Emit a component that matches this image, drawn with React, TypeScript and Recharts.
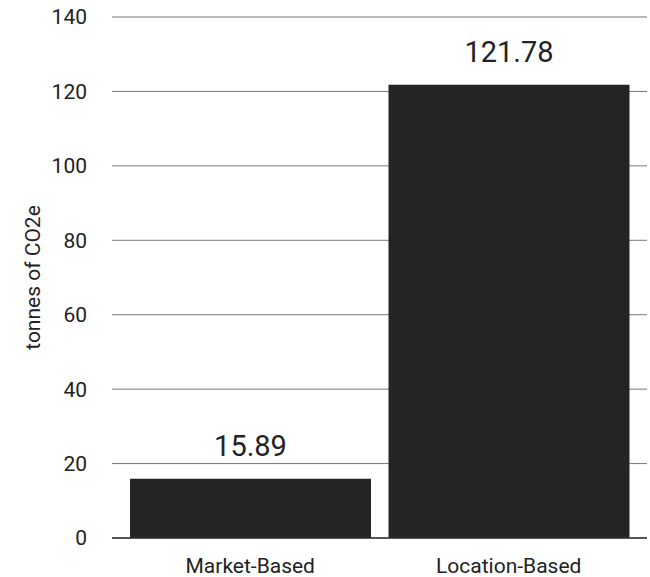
import React from "react";
import { BarChart, Bar, XAxis, YAxis, CartesianGrid, LabelList } from "recharts";

// emission totals by accounting method
const methods = ["Market-Based", "Location-Based"];
const tonnes = [15.89, 121.78];
const yTicks = [0, 20, 40, 60, 80, 100, 120, 140];

const data = methods.map((name, i) => ({ name, value: tonnes[i] }));

const FONT = "Roboto, 'Noto Sans', sans-serif";

export default function App() {
  return (
    <div style={{ position: "absolute", left: 0, top: 0, background: "#fff", fontFamily: FONT }}>
      <BarChart
        width={650}
        height={577}
        data={data}
        margin={{ top: 17, right: 3, bottom: 9, left: 0 }}
        barCategoryGap={9}
      >
        <CartesianGrid vertical={false} stroke="#777" strokeWidth={1} />
        <XAxis
          dataKey="name"
          height={30}
          padding={{ left: 9, right: 9 }}
          axisLine={{ stroke: "#333", strokeWidth: 1.5 }}
          tickLine={false}
          tickMargin={14}
          tick={{ fontSize: 21, fill: "#222", fontFamily: FONT }}
        />
        <YAxis
          width={112}
          domain={[0, 140]}
          ticks={yTicks}
          axisLine={false}
          tickLine={false}
          tickMargin={19}
          tick={{ fontSize: 21, fill: "#222", fontFamily: FONT }}
          label={{
            value: "tonnes of CO2e",
            angle: -90,
            position: "insideLeft",
            offset: 33,
            style: { textAnchor: "middle", fontSize: 21, fill: "#222", fontFamily: FONT },
          }}
        />
        <Bar dataKey="value" fill="#242424" isAnimationActive={false}>
          <LabelList
            dataKey="value"
            position="top"
            offset={23}
            style={{ fontSize: 29, fill: "#222", fontFamily: FONT }}
          />
        </Bar>
      </BarChart>
    </div>
  );
}
